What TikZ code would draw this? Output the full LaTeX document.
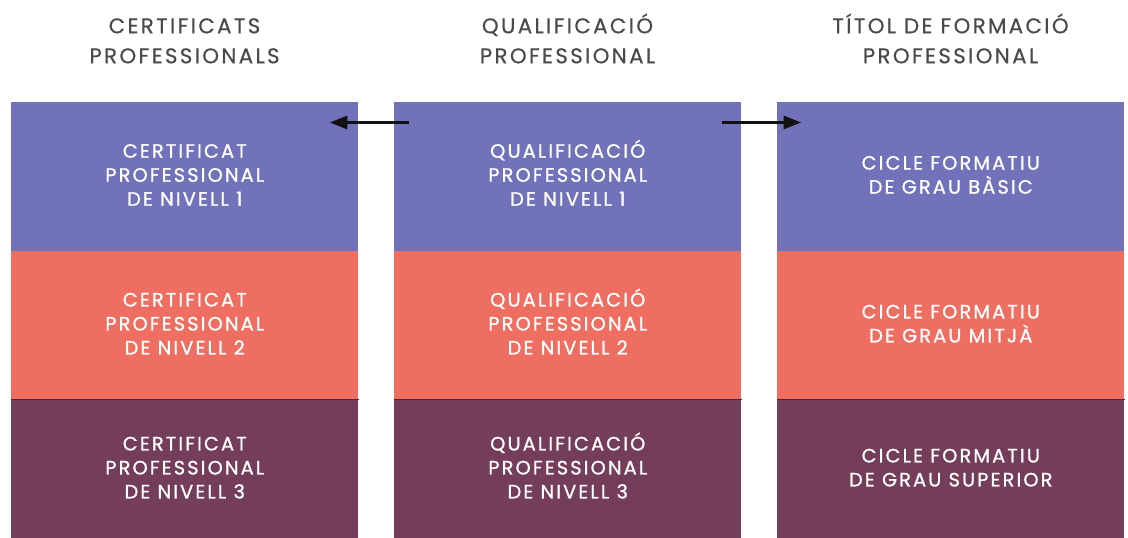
\documentclass[tikz,border=0pt]{standalone}
\usepackage{fontspec}
\setmainfont{Poppins}
\newfontfamily\boxfont{Poppins}[LetterSpace=11, FakeBold=1.0]
\newfontfamily\headfont{Poppins}[LetterSpace=11, FakeBold=0.5]
\usetikzlibrary{arrows.meta}
\definecolor{cblue}{HTML}{7172B9}
\definecolor{cred}{HTML}{EE6F62}
\definecolor{cplum}{HTML}{743D5A}
\definecolor{cline}{HTML}{6A1A2A}
\definecolor{chead}{HTML}{4A4A4A}
\definecolor{carrow}{HTML}{111111}
\tikzset{
  cell/.style={fill=#1, draw=none, minimum width=347*0.75pt, inner sep=0pt, anchor=north west},
  celltext/.style={text=white, align=center, yshift=2.8pt, font=\boxfont\fontsize{14.5}{18}\selectfont},
  head/.style={text=chead, align=center, font=\headfont\fontsize{16}{22.5}\selectfont},
  conn/.style={draw=carrow, line width=1.6pt, -{Triangle[length=13pt,width=10pt]}}
}
\newcommand{\acc}{\vphantom{ÍÓ}}
\begin{document}
\begin{tikzpicture}[x=0.75pt,y=-0.75pt]
\useasboundingbox (0,0) rectangle (1128,538);
% headers
\node[head] (h1) at (184.5,38.5) {\acc CERTIFICATS\\PROFESSIONALS};
\node[head] (h2) at (567.5,38.5) {\acc QUALIFICACIÓ\\PROFESSIONAL};
\node[head] (h3) at (950.5,38.5) {\acc TÍTOL DE FORMACIÓ\\PROFESSIONAL};
% column boxes
\foreach \c/\x in {a/11,b/394,c/777}{
  \node[cell=cblue, minimum height=148.5*0.75pt] (\c1) at (\x,102) {};
  \node[cell=cred, minimum height=149*0.75pt] (\c2) at (\x,250.5) {};
  \node[cell=cplum, minimum height=139*0.75pt] (\c3) at (\x,399.5) {};
  \draw[cline, line width=0.9pt] (\c3.north west) -- (\c3.north east);
}
% texts
\node[celltext] (ta1) at (a1) {\acc CERTIFICAT\\PROFESSIONAL\\DE NIVELL 1};
\node[celltext] (ta2) at (a2) {\acc CERTIFICAT\\PROFESSIONAL\\DE NIVELL 2};
\node[celltext] (ta3) at (a3) {\acc CERTIFICAT\\PROFESSIONAL\\DE NIVELL 3};
\node[celltext] (tb1) at (b1) {\acc QUALIFICACIÓ\\PROFESSIONAL\\DE NIVELL 1};
\node[celltext] (tb2) at (b2) {\acc QUALIFICACIÓ\\PROFESSIONAL\\DE NIVELL 2};
\node[celltext] (tb3) at (b3) {\acc QUALIFICACIÓ\\PROFESSIONAL\\DE NIVELL 3};
\node[celltext] (tc1) at (c1) {\acc CICLE FORMATIU\\DE GRAU BÀSIC};
\node[celltext] (tc2) at (c2) {\acc CICLE FORMATIU\\DE GRAU MITJÀ};
\node[celltext] (tc3) at (c3) {\acc CICLE FORMATIU\\DE GRAU SUPERIOR};
% arrows
\coordinate (pL) at (409,122.5);
\coordinate (qL) at (330,122.5);
\coordinate (pR) at (722,122.5);
\coordinate (qR) at (801,122.5);
\draw[conn] (pL) -- (qL);
\draw[conn] (pR) -- (qR);
\end{tikzpicture}
\end{document}
